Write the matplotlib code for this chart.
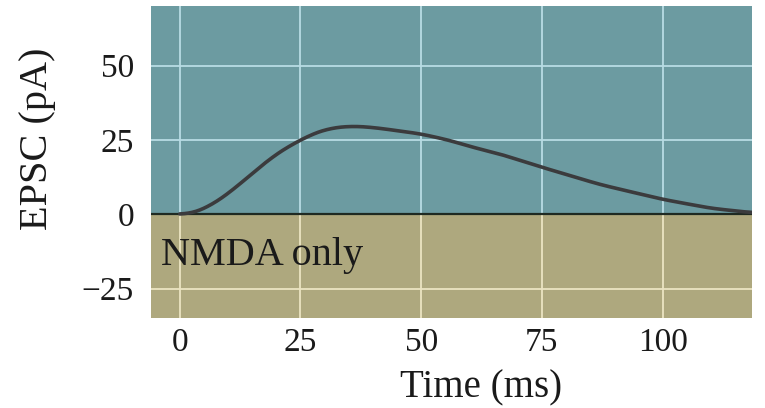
import numpy as np
import matplotlib.pyplot as plt

# EPSC trace, NMDA only
time_ms = [0, 2, 4, 8, 12, 16.5, 20.7, 25, 29, 33, 37, 41, 50, 56, 60, 66, 75, 87, 100, 110, 118.5]
epsc_pa = [0, 0.2, 1, 4.5, 9.5, 15.8, 21, 25, 28, 29.4, 29.6, 29, 27, 24.8, 22.8, 20.4, 15.8, 10, 5, 2, 0.5]
x_ticks = [0, 25, 50, 75, 100]
y_ticks = [-25, 0, 25, 50]

teal = '#6c9ba1'
olive = '#aea87e'
grid_teal = '#b8dce4'
grid_olive = '#ece4c2'

plt.rcParams['font.family'] = ['Liberation Serif', 'DejaVu Serif']

fig = plt.figure(figsize=(7.65, 4.08), dpi=100)
ax = fig.add_axes([0.197, 0.22, 0.786, 0.765])

xmin, xmax = -6, 118.5
ymin, ymax = -35, 70
ax.set_xlim(xmin, xmax)
ax.set_ylim(ymin, ymax)

ax.axhspan(0, ymax, color=teal, lw=0, zorder=0)
ax.axhspan(ymin, 0, color=olive, lw=0, zorder=0)

# grid, coloured per region
for xt in x_ticks:
    ax.vlines(xt, 0, ymax, color=grid_teal, lw=1.3, zorder=1)
    ax.vlines(xt, ymin, 0, color=grid_olive, lw=1.3, zorder=1)
for yt in y_ticks:
    if yt > 0:
        ax.hlines(yt, xmin, xmax, color=grid_teal, lw=1.3, zorder=1)
    elif yt < 0:
        ax.hlines(yt, xmin, xmax, color=grid_olive, lw=1.3, zorder=1)

ax.axhline(0, color='#1f2a22', lw=1.6, zorder=2)

# smooth the trace for drawing (gaussian, ~1.5 ms)
t = np.linspace(time_ms[0], time_ms[-1], 600)
y = np.interp(t, time_ms, epsc_pa)
g = np.exp(-0.5 * (np.arange(-24, 25) / 8.0) ** 2)
g /= g.sum()
y = np.convolve(np.pad(y, 24, mode='edge'), g, mode='valid')
ax.plot(t, y, color='#3b3b3d', lw=2.6, zorder=3, solid_capstyle='round')

ax.text(-3.8, -14, 'NMDA only', fontsize=29, color='#1a1a1a', va='center', ha='left', zorder=4)

ax.set_xticks(x_ticks)
ax.set_yticks(y_ticks)
ax.set_yticklabels(['\u221225', '0', '25', '50'])
ax.tick_params(length=0, labelsize=24, colors='#1a1a1a')
ax.tick_params(axis='y', pad=12)
ax.tick_params(axis='x', pad=7)
for s in ax.spines.values():
    s.set_visible(False)

ax.set_xlabel('Time (ms)', fontsize=28, color='#1a1a1a')
ax.set_ylabel('EPSC (pA)', fontsize=29, color='#1a1a1a')
ax.xaxis.set_label_coords(0.549, -0.165)
ax.yaxis.set_label_coords(-0.158, 0.574)

fig.savefig('out.png', dpi=100)
